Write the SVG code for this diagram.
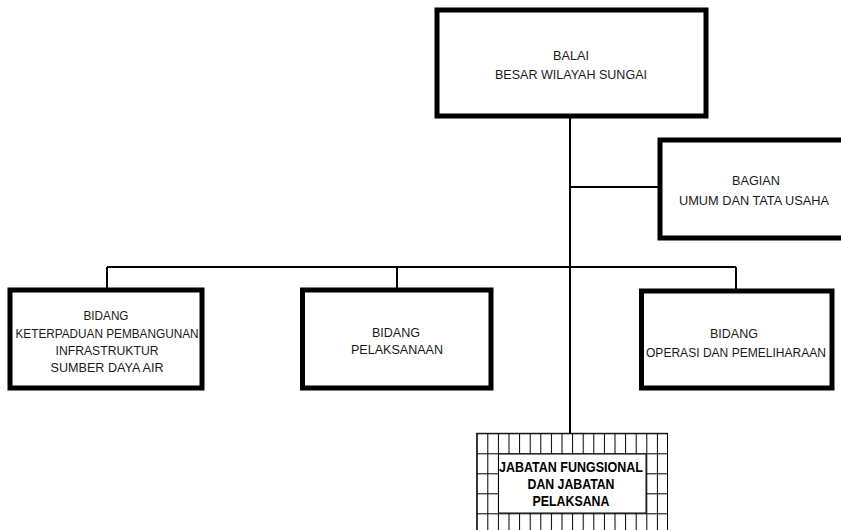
<svg xmlns="http://www.w3.org/2000/svg" width="841" height="530" viewBox="0 0 841 530">
<defs>
<style>
.box{fill:#fff;stroke:#000;stroke-width:5}
.con{fill:none;stroke:#000;stroke-width:2}
.t{font-family:"Liberation Sans",Arial,sans-serif;font-size:13.5px;fill:#1a1a1a;text-anchor:middle}
.s{font-size:12.5px}
.b{font-family:"Liberation Sans",Arial,sans-serif;font-size:14px;font-weight:bold;fill:#000;text-anchor:middle}
</style>
<pattern id="grid" patternUnits="userSpaceOnUse" x="476.7" y="433.3" width="10.6" height="20">
<path d="M0.5 0V20M0 0.5H10.6" stroke="#000" stroke-width="1" fill="none"/>
</pattern>
</defs>
<rect width="841" height="530" fill="#fff"/>
<g id="connectors">
<path class="con" d="M570 116V433"/>
<path class="con" d="M570 187H660"/>
<path class="con" d="M107 267H736"/>
<path class="con" d="M107 267V290M397 267V290M736 267V291"/>
</g>
<g id="balai">
<rect class="box" x="437" y="10" width="269" height="106"/>
<text class="t" x="571" y="60" textLength="36" lengthAdjust="spacingAndGlyphs">BALAI</text>
<text class="t" x="571" y="79" textLength="152" lengthAdjust="spacingAndGlyphs">BESAR WILAYAH SUNGAI</text>
</g>
<g id="bagian">
<rect class="box" x="660" y="140" width="200" height="98"/>
<text class="t" x="756" y="185" textLength="48" lengthAdjust="spacingAndGlyphs">BAGIAN</text>
<text class="t" x="754" y="205" textLength="150" lengthAdjust="spacingAndGlyphs">UMUM DAN TATA USAHA</text>
</g>
<g id="bidang-keterpaduan">
<rect class="box" x="10" y="290" width="192" height="98"/>
<text class="t" x="106" y="320" textLength="45" lengthAdjust="spacingAndGlyphs">BIDANG</text>
<text class="t s" x="107" y="338" textLength="183" lengthAdjust="spacingAndGlyphs">KETERPADUAN PEMBANGUNAN</text>
<text class="t" x="107" y="355" textLength="103" lengthAdjust="spacingAndGlyphs">INFRASTRUKTUR</text>
<text class="t" x="107" y="372" textLength="113" lengthAdjust="spacingAndGlyphs">SUMBER DAYA AIR</text>
</g>
<g id="bidang-pelaksanaan">
<rect class="box" x="302.5" y="290" width="188.5" height="98"/>
<text class="t" x="396" y="337" textLength="48" lengthAdjust="spacingAndGlyphs">BIDANG</text>
<text class="t" x="397" y="354" textLength="92" lengthAdjust="spacingAndGlyphs">PELAKSANAAN</text>
</g>
<g id="bidang-operasi">
<rect class="box" x="641.5" y="291" width="190.5" height="97"/>
<text class="t" x="734" y="338" textLength="48" lengthAdjust="spacingAndGlyphs">BIDANG</text>
<text class="t s" x="736" y="357" textLength="180" lengthAdjust="spacingAndGlyphs">OPERASI DAN PEMELIHARAAN</text>
</g>
<g id="jabatan">
<rect x="476.7" y="433.3" width="190.8" height="100" fill="url(#grid)" stroke="#000" stroke-width="1"/>
<rect x="498.5" y="454" width="147.5" height="59" fill="#fff" stroke="#000" stroke-width="1"/>
<text class="b" x="571" y="472" textLength="144" lengthAdjust="spacingAndGlyphs">JABATAN FUNGSIONAL</text>
<text class="b" x="571" y="489" textLength="87" lengthAdjust="spacingAndGlyphs">DAN JABATAN</text>
<text class="b" x="571" y="506" textLength="77" lengthAdjust="spacingAndGlyphs">PELAKSANA</text>
</g>
</svg>
